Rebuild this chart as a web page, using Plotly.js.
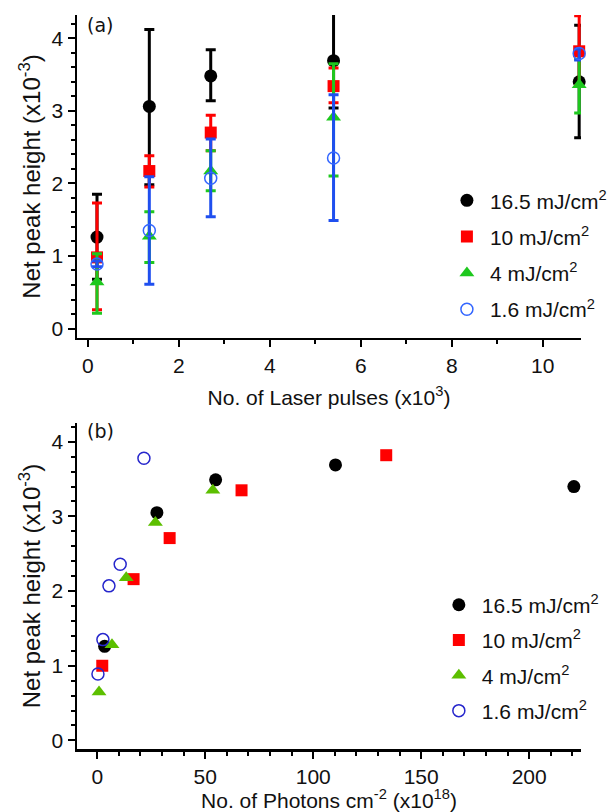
<!DOCTYPE html>
<html>
<head>
<meta charset="utf-8">
<script src="https://cdn.plot.ly/plotly-3.0.1.min.js"></script>
<style>
  html, body { margin: 0; padding: 0; background: #fff; }
  #chart { width: 609px; height: 812px; }
</style>
</head>
<body>
<div id="chart"></div>
<script>
// ---------- DATA ----------
const seriesNames = ['16.5 mJ/cm<sup>2</sup>', '10 mJ/cm<sup>2</sup>', '4 mJ/cm<sup>2</sup>', '1.6 mJ/cm<sup>2</sup>'];

// (a) Net peak height vs number of laser pulses (x10^3)
const pulses = [0.2, 1.35, 2.7, 5.4, 10.8];

const peak165 = [1.26, 3.06, 3.48, 3.69, 3.40];
const peak165Hi = [1.85, 4.12, 3.84, 4.34, 4.18];
const peak165Lo = [0.68, 1.98, 3.14, 3.04, 2.63];

const peak10 = [0.98, 2.17, 2.70, 3.34, 3.82];
const peak10Hi = [1.73, 2.38, 2.94, 3.59, 4.31];
const peak10Lo = [0.26, 1.95, 2.45, 3.11, 3.35];

const peak4 = [0.64, 1.27, 2.17, 2.91, 3.36];
const peak4Hi = [1.03, 1.61, 2.45, 3.65, 3.71];
const peak4Lo = [0.21, 0.91, 1.90, 2.10, 2.97];

const peak16 = [0.89, 1.35, 2.07, 2.35, 3.79];
const peak16Hi = [0.93, 2.09, 2.61, 3.22, 3.85];
const peak16Lo = [0.85, 0.61, 1.54, 1.49, 3.70];

// (b) Net peak height vs photon dose (x10^18 photons cm^-2)
const photons165 = [3.4, 27.6, 54.8, 110.3, 220.7];
const photons10 = [2.3, 16.8, 33.5, 66.8, 133.8];
const photons4 = [0.8, 6.8, 13.4, 26.9, 53.5];
const photons16 = [0.3, 2.6, 5.4, 10.6, 21.6];

const dose165 = [1.26, 3.05, 3.49, 3.69, 3.40];
const dose10 = [1.00, 2.16, 2.71, 3.35, 3.82];
const dose4 = [0.65, 1.28, 2.18, 2.92, 3.35];
const dose16 = [0.89, 1.35, 2.07, 2.36, 3.78];

// ---------- STYLE ----------
const FONT = "'Liberation Sans', Arial, sans-serif";
const colorsA = ['#000000', '#ff0000', '#1ec81e', '#1f4fef'];
const colorsB = ['#000000', '#ff0000', '#5cbf00', '#2626cc'];

function diff(a, b) { return a.map((v, i) => Math.max(0, v - b[i])); }

function errTrace(x, y, hi, lo, name, color, marker, grp) {
  return {
    type: 'scatter', mode: 'markers', x: x, y: y, name: name,
    xaxis: 'x', yaxis: 'y', legend: 'legend', legendgroup: grp,
    marker: marker,
    error_y: {
      type: 'data', symmetric: false,
      array: diff(hi, y), arrayminus: diff(y, lo),
      color: color, thickness: 3, width: 5
    },
    cliponaxis: false
  };
}

const mkA = [
  {symbol: 'circle', size: 13, color: colorsA[0]},
  {symbol: 'square', size: 12, color: colorsA[1]},
  {symbol: 'triangle-up', size: 13, color: colorsA[2]},
  {symbol: 'circle-open', size: 12, color: '#3366ff', line: {width: 1.5, color: '#3366ff'}}
];
const mkB = [
  {symbol: 'circle', size: 13, color: colorsB[0]},
  {symbol: 'square', size: 12, color: colorsB[1]},
  {symbol: 'triangle-up', size: 13, color: colorsB[2]},
  {symbol: 'circle-open', size: 12, color: colorsB[3], line: {width: 1.5, color: colorsB[3]}}
];

const traces = [
  errTrace(pulses, peak165, peak165Hi, peak165Lo, seriesNames[0], colorsA[0], mkA[0], 'a0'),
  errTrace(pulses, peak10, peak10Hi, peak10Lo, seriesNames[1], colorsA[1], mkA[1], 'a1'),
  errTrace(pulses, peak4, peak4Hi, peak4Lo, seriesNames[2], colorsA[2], mkA[2], 'a2'),
  errTrace(pulses, peak16, peak16Hi, peak16Lo, seriesNames[3], colorsA[3], mkA[3], 'a3')
];
const photonX = [photons165, photons10, photons4, photons16];
const doseY = [dose165, dose10, dose4, dose16];
for (let i = 0; i < 4; i++) {
  traces.push({
    type: 'scatter', mode: 'markers', x: photonX[i], y: doseY[i], name: seriesNames[i],
    xaxis: 'x2', yaxis: 'y2', legend: 'legend2', legendgroup: 'b' + i,
    marker: mkB[i], cliponaxis: false
  });
}

const axisCommon = {
  showline: true, linecolor: '#000', linewidth: 2.5,
  ticks: 'outside', ticklen: 7, tickwidth: 2, tickcolor: '#000',
  showgrid: false, zeroline: false, mirror: false, automargin: false,
  tickfont: {family: FONT, size: 21, color: '#111'}
};
const titleFont = {family: FONT, size: 21, color: '#111'};
const yTitleFont = {family: FONT, size: 24, color: '#111'};
const yTitle = 'Net peak height (x10<sup>-3</sup>)';

const layout = {
  width: 609, height: 812,
  paper_bgcolor: '#fff', plot_bgcolor: '#fff',
  margin: {l: 77, r: 28, t: 15, b: 63, autoexpand: false},
  showlegend: true,
  xaxis: Object.assign({}, axisCommon, {
    domain: [0, 1], anchor: 'y', range: [-0.24, 10.84], dtick: 2, tick0: 0,
    minor: {ticks: 'outside', ticklen: 4, tickwidth: 2, tickcolor: '#000', dtick: 1, showgrid: false},
    title: {text: 'No. of Laser pulses (x10<sup>3</sup>)', font: titleFont, standoff: 15}
  }),
  yaxis: Object.assign({}, axisCommon, {
    domain: [0.56, 1], anchor: 'x', range: [-0.13, 4.32], dtick: 1, tick0: 0,
    minor: {ticks: 'outside', ticklen: 4, tickwidth: 2, tickcolor: '#000', dtick: 0.2, showgrid: false},
    title: {text: yTitle, font: yTitleFont, standoff: 4}
  }),
  xaxis2: Object.assign({}, axisCommon, {
    domain: [0, 1], anchor: 'y2', range: [-9.4, 224], dtick: 50, tick0: 0,
    minor: {ticks: 'outside', ticklen: 4, tickwidth: 2, tickcolor: '#000', dtick: 10, showgrid: false},
    title: {text: 'No. of Photons cm<sup>-2</sup> (x10<sup>18</sup>)', font: titleFont, standoff: 2}
  }),
  yaxis2: Object.assign({}, axisCommon, {
    domain: [0, 0.444], anchor: 'x2', range: [-0.115, 4.25], dtick: 1, tick0: 0,
    minor: {ticks: 'outside', ticklen: 4, tickwidth: 2, tickcolor: '#000', dtick: 0.2, showgrid: false},
    title: {text: yTitle, font: yTitleFont, standoff: 4}
  }),
  legend: {
    x: 0.728, y: 0.775, xanchor: 'left', yanchor: 'top', itemwidth: 36,
    bgcolor: 'rgba(0,0,0,0)', font: {family: FONT, size: 21, color: '#111'},
    tracegroupgap: 6
  },
  legend2: {
    x: 0.712, y: 0.224, xanchor: 'left', yanchor: 'top', itemwidth: 36,
    bgcolor: 'rgba(0,0,0,0)', font: {family: FONT, size: 21, color: '#111'},
    tracegroupgap: 5
  },
  annotations: [
    {xref: 'paper', yref: 'paper', x: 0.016, y: 0.987, xanchor: 'left', yanchor: 'middle',
     text: '(a)', showarrow: false, font: {family: 'DejaVu Sans, sans-serif', size: 19, color: '#111'}},
    {xref: 'paper', yref: 'paper', x: 0.016, y: 0.433, xanchor: 'left', yanchor: 'middle',
     text: '(b)', showarrow: false, font: {family: 'DejaVu Sans, sans-serif', size: 19, color: '#111'}}
  ]
};

Plotly.newPlot('chart', traces, layout, {displayModeBar: false, staticPlot: true});
</script>
</body>
</html>
